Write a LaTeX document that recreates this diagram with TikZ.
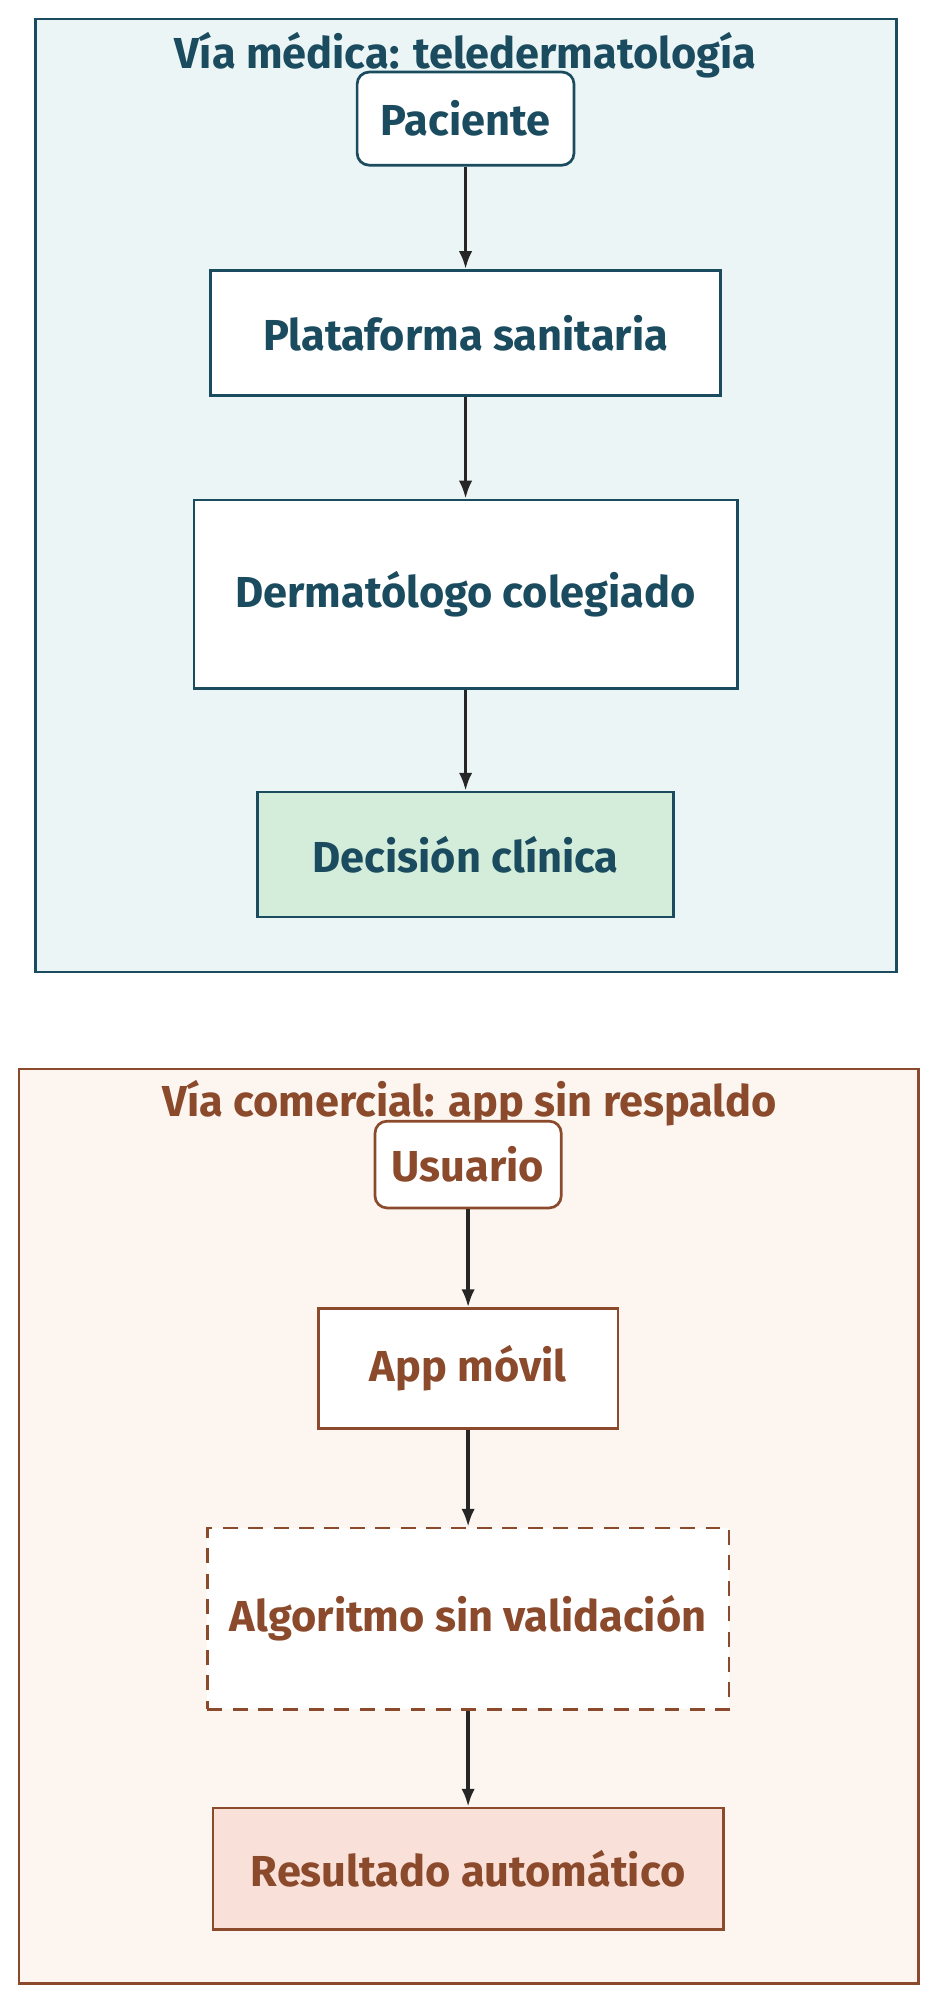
\documentclass[tikz,border=0pt]{standalone}
\usepackage{fontspec}
\setmainfont{Fira Sans}
\begin{document}
\begin{tikzpicture}[x=0.03cm,y=-0.03cm,
  blue/.style={draw=tealc,line width=1.8pt,fill=white,text=tealc,font=\fontsize{29}{32}\selectfont\bfseries},
  brown/.style={draw=brownc,line width=1.8pt,fill=white,text=brownc,font=\fontsize{29}{32}\selectfont\bfseries},
  arr/.style={-{Latex[length=12pt,width=9pt]},line width=2.2pt,draw=black!85}]
\usetikzlibrary{arrows.meta}
\definecolor{tealc}{HTML}{1B4B5E}
\definecolor{brownc}{HTML}{8B4A2B}
\definecolor{bluef}{HTML}{EBF5F6}
\definecolor{brownf}{HTML}{FDF6F0}
\definecolor{greenf}{HTML}{D4EDDA}
\definecolor{redf}{HTML}{F9E0D8}
\useasboundingbox (0,0) rectangle (736,1568);
\fill[white] (0,0) rectangle (736,1568);
\draw[draw=tealc,line width=1.8pt,fill=bluef] (28,15) rectangle (703,762);
\node[text=tealc,font=\fontsize{29}{32}\selectfont\bfseries] (t1) at (365,43) {Vía médica: teledermatología};
\node[blue,rounded corners=8pt,minimum width=170*0.03cm,minimum height=73*0.03cm] (a) at (365,93) {Paciente};
\node[blue,minimum width=400*0.03cm,minimum height=98*0.03cm] (b) at (365,261) {Plataforma sanitaria};
\node[blue,minimum width=426*0.03cm,minimum height=148*0.03cm] (c) at (365,466) {Dermatólogo colegiado};
\node[blue,fill=greenf,minimum width=326*0.03cm,minimum height=98*0.03cm] (d) at (365,670) {Decisión clínica};
\draw[arr] (a) -- (b); \draw[arr] (b) -- (c); \draw[arr] (c) -- (d);
\draw[draw=brownc,line width=1.8pt,fill=brownf] (15,838) rectangle (720,1555);
\node[text=brownc,font=\fontsize{29}{32}\selectfont\bfseries] (t2) at (368,865) {Vía comercial: app sin respaldo};
\node[brown,rounded corners=8pt,minimum width=146*0.03cm,minimum height=68*0.03cm] (e) at (367,913) {Usuario};
\node[brown,minimum width=235*0.03cm,minimum height=94*0.03cm] (f) at (367,1073) {App móvil};
\node[brown,dash pattern=on 10pt off 7pt,minimum width=409*0.03cm,minimum height=142*0.03cm] (g) at (367,1269) {Algoritmo sin validación};
\node[brown,fill=redf,minimum width=400*0.03cm,minimum height=95*0.03cm] (h) at (367,1465) {Resultado automático};
\draw[arr] (e) -- (f); \draw[arr] (f) -- (g); \draw[arr] (g) -- (h);
\end{tikzpicture}
\end{document}
